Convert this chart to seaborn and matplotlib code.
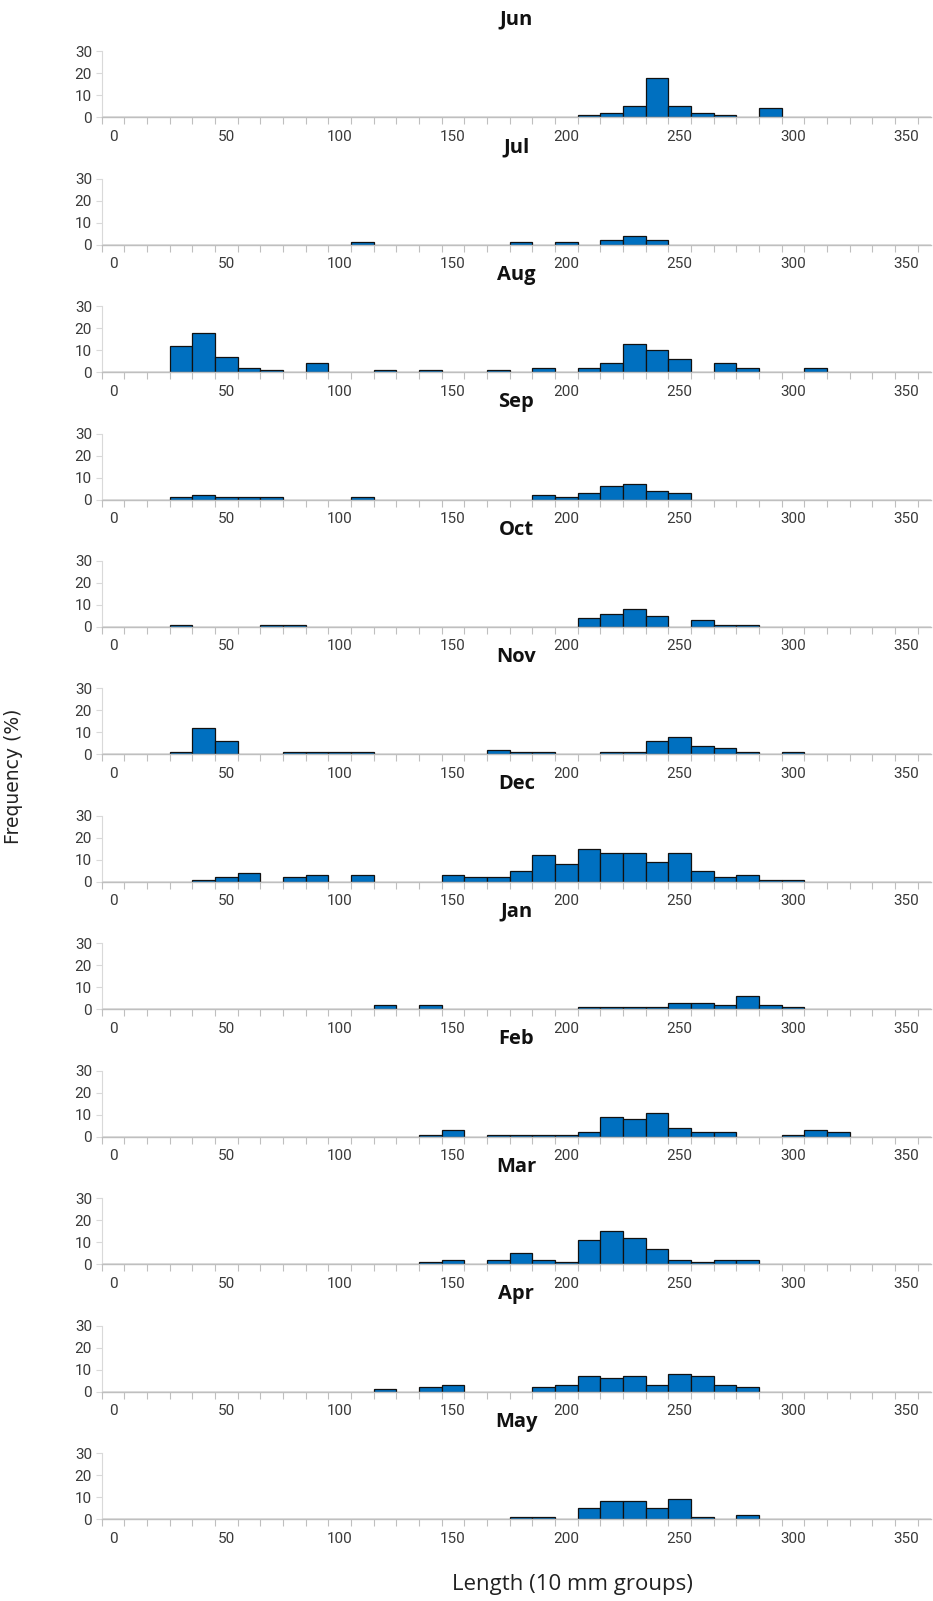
import numpy as np
import pandas as pd
import matplotlib
matplotlib.use("Agg")
import matplotlib.pyplot as plt
import seaborn as sns

months = ["Jun", "Jul", "Aug", "Sep", "Oct", "Nov", "Dec", "Jan", "Feb", "Mar", "Apr", "May"]

jun_len = [210, 220, 230, 240, 250, 260, 270, 290]
jun_freq = [1, 2, 5, 18, 5, 2, 1, 4]
jul_len = [110, 180, 200, 220, 230, 240]
jul_freq = [1, 1, 1, 2, 4, 2]
aug_len = [30, 40, 50, 60, 70, 90, 120, 140, 170, 190, 210, 220, 230, 240, 250, 270, 280, 310]
aug_freq = [12, 18, 7, 2, 1, 4, 1, 1, 1, 2, 2, 4, 13, 10, 6, 4, 2, 2]
sep_len = [30, 40, 50, 60, 70, 110, 190, 200, 210, 220, 230, 240, 250]
sep_freq = [1, 2, 1, 1, 1, 1, 2, 1, 3, 6, 7, 4, 3]
oct_len = [30, 70, 80, 210, 220, 230, 240, 260, 270, 280]
oct_freq = [1, 1, 1, 4, 6, 8, 5, 3, 1, 1]
nov_len = [30, 40, 50, 80, 90, 100, 110, 170, 180, 190, 220, 230, 240, 250, 260, 270, 280, 300]
nov_freq = [1, 12, 6, 1, 1, 1, 1, 2, 1, 1, 1, 1, 6, 8, 4, 3, 1, 1]
dec_len = [40, 50, 60, 80, 90, 110, 150, 160, 170, 180, 190, 200, 210, 220, 230, 240, 250, 260, 270, 280, 290, 300]
dec_freq = [1, 2, 4, 2, 3, 3, 3, 2, 2, 5, 12, 8, 15, 13, 13, 9, 13, 5, 2, 3, 1, 1]
jan_len = [120, 140, 210, 220, 230, 240, 250, 260, 270, 280, 290, 300]
jan_freq = [2, 2, 1, 1, 1, 1, 3, 3, 2, 6, 2, 1]
feb_len = [140, 150, 170, 180, 190, 200, 210, 220, 230, 240, 250, 260, 270, 300, 310, 320]
feb_freq = [1, 3, 1, 1, 1, 1, 2, 9, 8, 11, 4, 2, 2, 1, 3, 2]
mar_len = [140, 150, 170, 180, 190, 200, 210, 220, 230, 240, 250, 260, 270, 280]
mar_freq = [1, 2, 2, 5, 2, 1, 11, 15, 12, 7, 2, 1, 2, 2]
apr_len = [120, 140, 150, 190, 200, 210, 220, 230, 240, 250, 260, 270, 280]
apr_freq = [1, 2, 3, 2, 3, 7, 6, 7, 3, 8, 7, 3, 2]
may_len = [180, 190, 210, 220, 230, 240, 250, 260, 280]
may_freq = [1, 1, 5, 8, 8, 5, 9, 1, 2]

lengths = [jun_len, jul_len, aug_len, sep_len, oct_len, nov_len,
           dec_len, jan_len, feb_len, mar_len, apr_len, may_len]
freqs = [jun_freq, jul_freq, aug_freq, sep_freq, oct_freq, nov_freq,
         dec_freq, jan_freq, feb_freq, mar_freq, apr_freq, may_freq]

x_labels = [0, 50, 100, 150, 200, 250, 300, 350]
y_ticks = [0, 10, 20, 30]

sns.set_theme(style="white")
narrow = ["Roboto", "DejaVu Sans"]
plt.rcParams["font.family"] = ["Open Sans", "DejaVu Sans"]

fig, axes = plt.subplots(12, 1, figsize=(9.33, 16.01), dpi=100)
fig.subplots_adjust(left=0.109, right=0.998, top=0.968, bottom=0.0512, hspace=0.93)

for ax, m, L, F in zip(axes, months, lengths, freqs):
    df = pd.DataFrame({"length": np.asarray(L, dtype=float), "freq": np.asarray(F, dtype=float)})
    sns.histplot(data=df, x="length", weights="freq", binwidth=10, binrange=(-5, 365), ax=ax,
                 color="#0070C0", edgecolor="#111111", linewidth=0.9, alpha=1.0)
    ax.set_xlim(-5, 361)
    ax.set_ylim(0, 30)
    ax.set_yticks(y_ticks)
    ax.set_xticks(x_labels)
    ax.set_xticks(np.arange(-5, 361, 10), minor=True)
    ax.tick_params(axis="x", which="major", length=0, pad=9, labelsize=11, labelcolor="#3a3a3a")
    ax.tick_params(axis="x", which="minor", length=5, width=0.8, color="#BFBFBF", direction="out", bottom=True)
    ax.tick_params(axis="y", which="major", length=4, width=0.8, color="#D9D9D9", direction="out",
                   left=True, pad=3, labelsize=11, labelcolor="#3a3a3a")
    for lab in ax.get_xticklabels() + ax.get_yticklabels():
        lab.set_family(narrow)
    ax.set_xlabel("")
    ax.set_ylabel("")
    for s in ["top", "right"]:
        ax.spines[s].set_visible(False)
    ax.spines["left"].set_color("#D9D9D9")
    ax.spines["left"].set_linewidth(0.8)
    ax.spines["bottom"].set_color("#BFBFBF")
    ax.spines["bottom"].set_linewidth(1.0)
    ax.set_title(m, fontsize=14.5, fontweight="bold", pad=19, color="#111111")

fig.text(0.014, 0.515, "Frequency (%)", rotation=90, ha="center", va="center",
         fontsize=13.5, color="#222222", family=["DejaVu Sans"])
fig.text(0.614, 0.010, "Length (10 mm groups)", ha="center", va="center",
         fontsize=16, color="#222222")

fig.savefig("out.png", dpi=100)
